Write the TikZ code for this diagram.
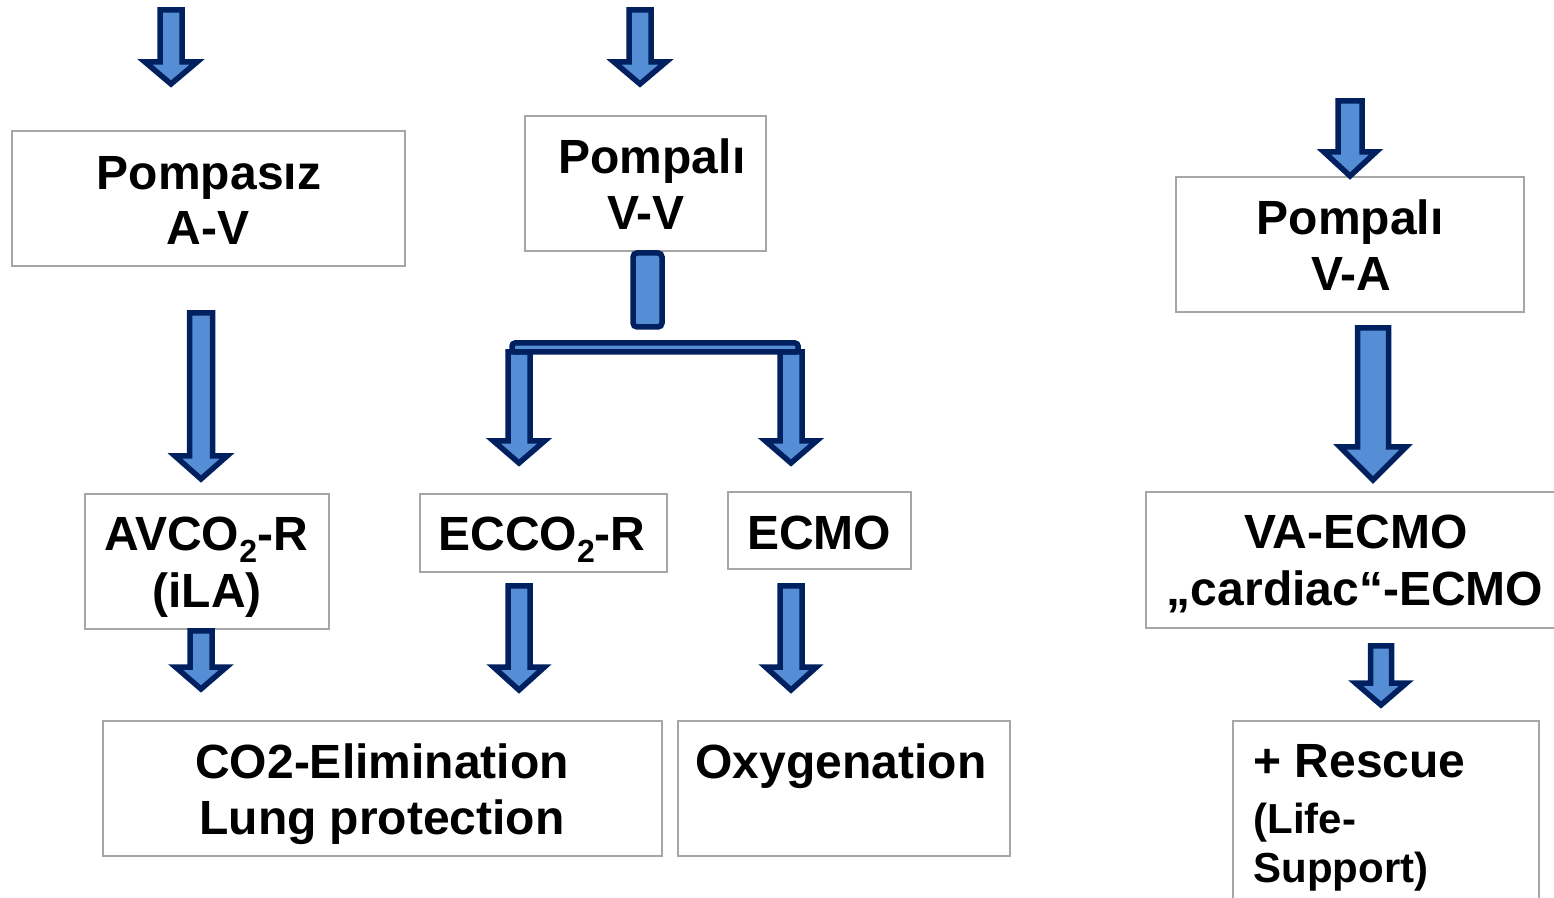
\documentclass[tikz,border=0pt]{standalone}
\usepackage{fontspec}
\setmainfont{Liberation Sans}
\usetikzlibrary{fit}
\definecolor{arrfill}{HTML}{558ED5}
\definecolor{arrline}{HTML}{002060}
\definecolor{boxline}{HTML}{A6A6A6}
\newcommand\subtwo{\raisebox{-6pt}{\fontsize{16}{16}\selectfont 2}}
\newcommand\barrow[6]{%
  \filldraw[arr] ({#1-#5},#2) -- ({#1+#5},#2) -- ({#1+#5},#3) -- ({#1+#6},#3)
    -- (#1,#4) -- ({#1-#6},#3) -- ({#1-#5},#3) -- cycle;}
\tikzset{
  box/.style={draw=boxline, line width=1pt, fill=white, inner sep=0pt, rectangle},
  arr/.style={fill=arrfill, draw=arrline, line width=2.75pt, miter limit=10},
  txt/.style={inner sep=0pt, anchor=base, font=\bfseries\fontsize{24}{28}\selectfont},
  txtsm/.style={txt, anchor=base west, font=\bfseries\fontsize{21}{25}\selectfont}
}
\begin{document}
\begin{tikzpicture}[x=0.5pt,y=-0.5pt]
\clip (0,0) rectangle (1554,898);
\fill[white] (0,0) rectangle (1554,898);
% boxes
\node[box, fit={(12,131) (405,266)}] (b1) {};
\node[box, fit={(525,116) (766,251)}] (b2) {};
\node[box, fit={(1176,177) (1524,312)}] (b3) {};
\node[box, fit={(85,494) (329,629)}] (b4) {};
\node[box, fit={(420,494) (667,572)}] (b5) {};
\node[box, fit={(728,492) (911,569)}] (b6) {};
\node[box, fit={(1146,492) (1570,628)}] (b7) {};
\node[box, fit={(103,721) (662,856)}] (b8) {};
\node[box, fit={(678,721) (1010,856)}] (b9) {};
\node[box, fit={(1233,721) (1539,910)}] (b10) {};
% texts
\node[txt] (t1a) at (209,190) {Pompasız};
\node[txt] (t1b) at (208,245) {A-V};
\node[txt] (t2a) at (652,174) {Pompalı};
\node[txt] (t2b) at (646,230) {V-V};
\node[txt] (t3a) at (1350,235) {Pompalı};
\node[txt] (t3b) at (1351,291) {V-A};
\node[txt] (t4a) at (206,551) {AVCO\subtwo-R};
\node[txt] (t4b) at (207,608) {(iLA)};
\node[txt] (t5) at (542,551) {ECCO\subtwo-R};
\node[txt] (t6) at (819,550) {ECMO};
\node[txt] (t7a) at (1356,549) {VA-ECMO};
\node[txt] (t7b) at (1355,605) {„cardiac“-ECMO};
\node[txt] (t8a) at (382,778) {CO2-Elimination};
\node[txt] (t8b) at (382,834) {Lung protection};
\node[txt] (t9) at (841,778) {Oxygenation};
\node[txt, anchor=base west] (t10a) at (1253,777) {+ Rescue};
\node[txtsm] (t10b) at (1253,833) {(Life-};
\node[txtsm] (t10c) at (1253,882) {Support)};
% arrows
\barrow{171}{10}{62}{84}{11}{26}
\barrow{640}{10}{62}{84}{11}{26}
\barrow{1350}{101}{152}{176}{12}{26}
\barrow{201}{313}{456}{479}{11.5}{26}
\barrow{1373}{328}{447}{480}{15.5}{33}
\barrow{519}{352}{441}{463}{11}{25.5}
\barrow{791}{352}{441}{463}{11}{25.5}
\barrow{201}{631}{667}{689}{11}{25.5}
\barrow{519}{586}{667}{690}{11}{25.5}
\barrow{791}{586}{667}{690}{11}{25.5}
\barrow{1381}{646}{683}{705}{10.5}{25.5}
% split connector
\filldraw[arr, rounded corners=2pt] (633,253) rectangle (662,327);
\filldraw[arr, rounded corners=1.5pt] (512,343) rectangle (798,352);
\end{tikzpicture}
\end{document}
